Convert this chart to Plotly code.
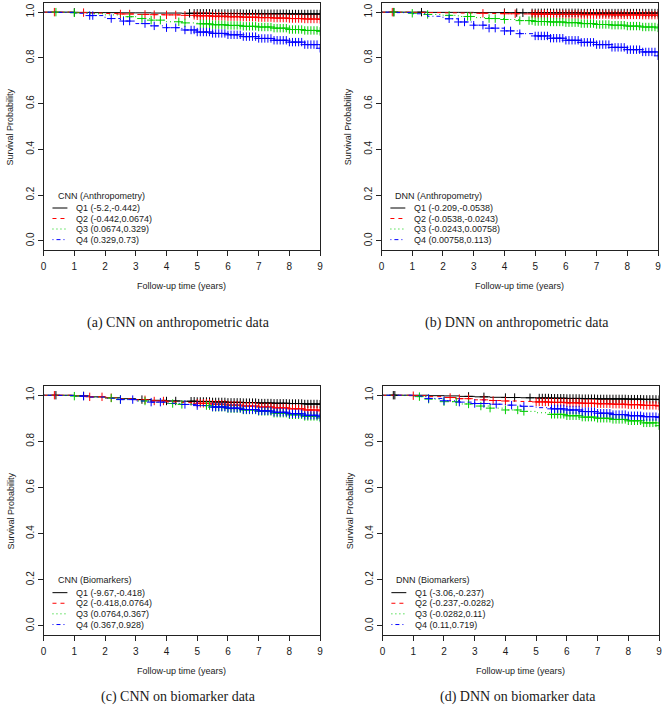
import numpy as np
import plotly.graph_objects as go

years = [0, 0.5, 1, 1.5, 2, 2.5, 3, 3.5, 4, 4.5, 5, 5.5, 6, 6.5, 7, 7.5, 8, 8.5, 9]

# (a) CNN on anthropometric data
a_q1 = [1, 1, 0.999, 0.998, 0.998, 0.997, 0.997, 0.996, 0.996, 0.995, 0.995, 0.994, 0.994, 0.993, 0.993, 0.993, 0.992, 0.992, 0.992]
a_q2 = [1, 1, 0.998, 0.996, 0.994, 0.992, 0.990, 0.989, 0.988, 0.986, 0.984, 0.982, 0.980, 0.978, 0.976, 0.974, 0.972, 0.970, 0.968]
a_q3 = [1, 1, 0.997, 0.993, 0.988, 0.980, 0.972, 0.965, 0.958, 0.953, 0.949, 0.945, 0.942, 0.938, 0.935, 0.930, 0.924, 0.920, 0.916]
a_q4 = [1, 0.999, 0.995, 0.985, 0.972, 0.961, 0.950, 0.940, 0.932, 0.922, 0.913, 0.907, 0.901, 0.893, 0.885, 0.877, 0.869, 0.858, 0.842]

# (b) DNN on anthropometric data
b_q1 = [1, 1, 1, 0.999, 0.999, 0.999, 0.998, 0.998, 0.998, 0.997, 0.997, 0.997, 0.997, 0.996, 0.996, 0.996, 0.996, 0.996, 0.996]
b_q2 = [1, 1, 0.999, 0.998, 0.997, 0.996, 0.995, 0.994, 0.993, 0.992, 0.991, 0.990, 0.990, 0.989, 0.989, 0.988, 0.988, 0.987, 0.987]
b_q3 = [1, 1, 0.995, 0.990, 0.986, 0.981, 0.976, 0.972, 0.968, 0.963, 0.959, 0.957, 0.954, 0.950, 0.946, 0.943, 0.939, 0.935, 0.931]
b_q4 = [1, 0.998, 0.993, 0.982, 0.971, 0.957, 0.943, 0.930, 0.918, 0.906, 0.896, 0.886, 0.877, 0.868, 0.858, 0.846, 0.836, 0.826, 0.809]

# (c) CNN on biomarker data
c_q1 = [1, 1, 0.997, 0.993, 0.989, 0.985, 0.981, 0.978, 0.975, 0.974, 0.973, 0.971, 0.969, 0.968, 0.966, 0.965, 0.964, 0.962, 0.961]
c_q2 = [1, 1, 0.997, 0.993, 0.989, 0.984, 0.980, 0.975, 0.971, 0.968, 0.965, 0.961, 0.957, 0.953, 0.949, 0.945, 0.941, 0.936, 0.932]
c_q3 = [1, 0.999, 0.996, 0.992, 0.988, 0.982, 0.975, 0.969, 0.964, 0.960, 0.955, 0.948, 0.942, 0.936, 0.930, 0.922, 0.915, 0.908, 0.901]
c_q4 = [1, 0.999, 0.996, 0.992, 0.987, 0.981, 0.975, 0.970, 0.965, 0.960, 0.955, 0.949, 0.944, 0.938, 0.932, 0.926, 0.920, 0.913, 0.906]

# (d) DNN on biomarker data
d_q1 = [1, 1, 1, 0.998, 0.997, 0.995, 0.993, 0.991, 0.990, 0.989, 0.988, 0.987, 0.986, 0.985, 0.984, 0.984, 0.983, 0.982, 0.981]
d_q2 = [1, 1, 0.998, 0.994, 0.990, 0.985, 0.980, 0.977, 0.975, 0.973, 0.971, 0.969, 0.967, 0.965, 0.963, 0.961, 0.959, 0.956, 0.953]
d_q3 = [1, 0.999, 0.994, 0.983, 0.972, 0.962, 0.953, 0.944, 0.936, 0.930, 0.924, 0.917, 0.911, 0.905, 0.900, 0.895, 0.889, 0.880, 0.868]
d_q4 = [1, 1, 0.996, 0.986, 0.976, 0.970, 0.964, 0.961, 0.957, 0.952, 0.946, 0.941, 0.936, 0.929, 0.922, 0.916, 0.911, 0.907, 0.903]

# censoring times: sparse early ones per curve, dense tail shared
late_censor = [4.8, 4.9, 5.0, 5.1, 5.2, 5.3, 5.4, 5.5, 5.6, 5.7, 5.8, 5.9, 6.0, 6.1, 6.2,
               6.3, 6.4, 6.5, 6.6, 6.7, 6.8, 6.9, 7.0, 7.1, 7.2, 7.3, 7.4, 7.5, 7.6, 7.7,
               7.8, 7.9, 8.0, 8.1, 8.2, 8.3, 8.4, 8.5, 8.6, 8.7, 8.8, 8.9, 9.0]

a_early = [[1.0, 4.75], [0.35, 1.3, 2.5, 2.8, 3.3, 3.6, 4.0, 4.3, 4.6],
           [0.4, 1.0, 2.8, 3.2, 3.5, 3.8, 4.4, 4.6], [1.5, 1.6, 2.2, 2.6, 2.8, 3.3, 3.6, 4.0, 4.3, 4.6]]
b_early = [[0.4, 1.3, 4.0, 4.4, 4.6], [0.35, 3.3, 4.0, 4.35],
           [0.4, 1.0, 1.5, 2.2, 2.8, 2.9, 3.5, 3.7, 4.0, 4.5], [2.2, 2.5, 2.7, 3.0, 3.3, 3.5, 3.7, 4.0, 4.2, 4.5]]
c_early = [[0.4, 1.3, 3.2, 4.0, 4.3], [0.35, 1.5, 1.9, 2.2, 3.3, 3.6, 3.9],
           [1.0, 2.2, 2.5, 3.3, 4.2, 4.5], [1.3, 2.5, 2.9, 3.5, 3.8, 4.6, 5.0]]
d_early = [[0.35, 0.4, 2.8, 3.3, 4.0, 4.3, 4.8], [1.0, 2.2, 2.5, 2.8, 3.3, 3.6, 4.0],
           [1.2, 1.5, 2.0, 2.4, 2.8, 3.2, 3.5, 4.0, 4.4, 4.6], [1.5, 2.0, 2.5, 3.0, 3.3, 3.7, 4.2, 4.6]]
# where the dense censoring starts for each curve
a_late_start = [4.85, 4.9, 5.1, 4.8]
b_late_start = [4.85, 4.9, 4.6, 5.0]
c_late_start = [4.7, 5.0, 5.3, 5.5]
d_late_start = [5.05, 5.0, 5.5, 5.5]

a_labels = ["Q1 (-5.2,-0.442)", "Q2 (-0.442,0.0674)", "Q3 (0.0674,0.329)", "Q4 (0.329,0.73)"]
b_labels = ["Q1 (-0.209,-0.0538)", "Q2 (-0.0538,-0.0243)", "Q3 (-0.0243,0.00758)", "Q4 (0.00758,0.113)"]
c_labels = ["Q1 (-9.67,-0.418)", "Q2 (-0.418,0.0764)", "Q3 (0.0764,0.367)", "Q4 (0.367,0.928)"]
d_labels = ["Q1 (-3.06,-0.237)", "Q2 (-0.237,-0.0282)", "Q3 (-0.0282,0.11)", "Q4 (0.11,0.719)"]

panels = [
    dict(curves=[a_q1, a_q2, a_q3, a_q4], early=a_early, late=a_late_start, labels=a_labels,
         title="CNN (Anthropometry)", caption="(a) CNN on anthropometric data", box=(41, 320, 3, 250)),
    dict(curves=[b_q1, b_q2, b_q3, b_q4], early=b_early, late=b_late_start, labels=b_labels,
         title="DNN (Anthropometry)", caption="(b) DNN on anthropometric data", box=(382, 661, 3, 250)),
    dict(curves=[c_q1, c_q2, c_q3, c_q4], early=c_early, late=c_late_start, labels=c_labels,
         title="CNN (Biomarkers)", caption="(c) CNN on biomarker data", box=(41, 320, 386, 635)),
    dict(curves=[d_q1, d_q2, d_q3, d_q4], early=d_early, late=d_late_start, labels=d_labels,
         title="DNN (Biomarkers)", caption="(d) DNN on biomarker data", box=(383, 662, 386, 635)),
]

colors = ["#000000", "#FF0000", "#00CD00", "#0000FF"]
dashes = ["solid", "4px,4px", "1px,3px", "1px,3px,4px,3px"]

W, H = 666, 711
SANS = "Liberation Sans, Arial, sans-serif"
SERIF = "Liberation Serif, Times New Roman, serif"
TXT = "#1a1a1a"

fig = go.Figure()
annotations = []
shapes = []
layout_axes = {}

for i, p in enumerate(panels, start=1):
    sfx = "" if i == 1 else str(i)
    xa, ya = "x" + sfx, "y" + sfx
    x0, x1, y0, y1 = p["box"]

    for k, surv in enumerate(p["curves"]):
        fig.add_trace(go.Scatter(
            x=years, y=surv, mode="lines", xaxis=xa, yaxis=ya, showlegend=False,
            line=dict(shape="hv", color=colors[k], width=1, dash=dashes[k]),
            hoverinfo="skip"))
        ct = sorted(p["early"][k] + [t for t in late_censor if t >= p["late"][k]])
        idx = np.searchsorted(years, ct, side="right") - 1
        cy = [surv[j] for j in idx]
        fig.add_trace(go.Scatter(
            x=ct, y=cy, mode="markers", xaxis=xa, yaxis=ya, showlegend=False,
            marker=dict(symbol="cross-thin", size=6, line=dict(width=1, color=colors[k]), color=colors[k]),
            hoverinfo="skip"))

    axis_common = dict(showline=True, mirror=True, linecolor="#222", linewidth=1,
                       ticks="outside", ticklen=5, tickcolor="#222", showgrid=False,
                       zeroline=False, tickfont=dict(family=SANS, size=10, color=TXT))
    layout_axes["xaxis" + sfx] = dict(axis_common, domain=[x0 / W, x1 / W], range=[0, 9],
                                      dtick=1, tick0=0, anchor=ya, ticklabelstandoff=2)
    layout_axes["yaxis" + sfx] = dict(axis_common, domain=[1 - y1 / H, 1 - y0 / H],
                                      range=[-0.04, 1.04], dtick=0.2, tick0=0, tickformat=".1f",
                                      tickangle=-90, anchor=xa)

    # axis titles and caption
    cx = (x0 + x1) / 2 / W
    annotations.append(dict(text="Follow-up time (years)", xref="paper", yref="paper",
                            x=cx, y=1 - (y1 + 36) / H, xanchor="center", yanchor="middle",
                            showarrow=False, font=dict(family=SANS, size=9, color=TXT)))
    annotations.append(dict(text="Survival Probability", xref="paper", yref="paper",
                            x=(x0 - 33) / W, y=1 - (y0 + y1) / 2 / H, xanchor="center",
                            yanchor="middle", textangle=-90, showarrow=False,
                            font=dict(family=SANS, size=9, color=TXT)))
    cap_y = 323 if i <= 2 else 697
    annotations.append(dict(text=p["caption"], xref="paper", yref="paper",
                            x=cx - 3 / W, y=1 - cap_y / H, xanchor="center", yanchor="middle",
                            showarrow=False, font=dict(family=SERIF, size=14, color=TXT)))

    # in-plot legend, drawn like R's legend(bty="n")
    annotations.append(dict(text=p["title"], xref=xa + " domain", yref=ya + " domain",
                            x=0.043, y=0.219, xanchor="left", yanchor="middle", showarrow=False,
                            font=dict(family=SANS, size=9, color=TXT)))
    for k, lab in enumerate(p["labels"]):
        ry = [0.170, 0.1275, 0.085, 0.042][k]
        shapes.append(dict(type="line", xref=xa + " domain", yref=ya + " domain",
                           x0=0.032, x1=0.086, y0=ry, y1=ry,
                           line=dict(color=colors[k], width=1, dash=dashes[k])))
        annotations.append(dict(text=lab, xref=xa + " domain", yref=ya + " domain",
                                x=0.111, y=ry, xanchor="left", yanchor="middle", showarrow=False,
                                font=dict(family=SANS, size=9, color=TXT)))

fig.update_layout(
    width=W, height=H,
    margin=dict(l=0, r=0, t=0, b=0),
    paper_bgcolor="white", plot_bgcolor="white",
    annotations=annotations, shapes=shapes,
    **layout_axes,
)

# page body has a default 8px margin; drop it so the figure sits at the window origin
fig.write_html("out.html", config={"displayModeBar": False},
               post_script="document.body.style.margin='0';")
